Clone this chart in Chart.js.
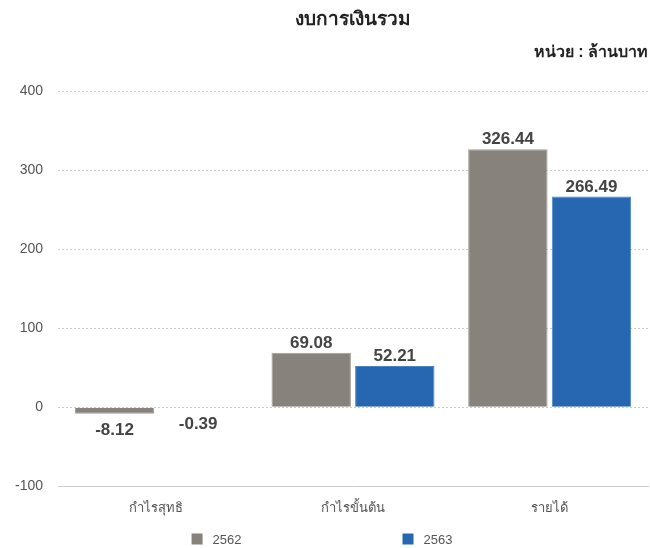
<!DOCTYPE html>
<html>
<head>
<meta charset="utf-8">
<script src="https://cdn.jsdelivr.net/npm/chart.js@4"></script>
<style>
  body { margin: 0; background: #fff; }
  #wrap { width: 650px; height: 548px; }
</style>
</head>
<body>
<div id="wrap"><canvas id="financeChart"></canvas></div>
<script>
// chart data
const categories = ["กำไรสุทธิ", "กำไรขั้นต้น", "รายได้"];
const years = ["2562", "2563"];
const values2562 = [-8.12, 69.08, 326.44];
const values2563 = [-0.39, 52.21, 266.49];
const yTicks = [-100, 0, 100, 200, 300, 400];

const FONT = "'Liberation Sans', Arial, 'DejaVu Sans', sans-serif";

// value labels above / below every bar
const valueLabels = {
  id: "valueLabels",
  afterDatasetsDraw(chart) {
    const ctx = chart.ctx;
    ctx.save();
    ctx.font = "bold 17px " + FONT;
    ctx.fillStyle = "#444";
    ctx.textAlign = "center";
    chart.data.datasets.forEach((ds, i) => {
      chart.getDatasetMeta(i).data.forEach((bar, j) => {
        const v = ds.data[j];
        if (v >= 0) {
          ctx.textBaseline = "alphabetic";
          ctx.fillText(v.toFixed(2), bar.x, bar.y - 5);
        } else {
          ctx.textBaseline = "top";
          ctx.fillText(v.toFixed(2), bar.x, bar.y + 8);
        }
      });
    });
    ctx.restore();
  },
};

// legend spread wide at the bottom, like the original
const wideLegend = {
  id: "wideLegend",
  afterDraw(chart) {
    const ctx = chart.ctx;
    const box = 11, gap = 10, spacing = 161;
    ctx.save();
    ctx.font = "13px " + FONT;
    const items = chart.data.datasets.map((ds) => ({
      label: ds.label,
      color: ds.backgroundColor,
      w: box + gap + ctx.measureText(ds.label).width,
    }));
    const total = items.reduce((s, it) => s + it.w, 0) + spacing * (items.length - 1);
    let x = chart.width / 2 - total / 2 - 3;
    const y = chart.height - 8;
    items.forEach((it) => {
      ctx.fillStyle = it.color;
      ctx.fillRect(x, y - box / 2 - 1, box, box);
      ctx.fillStyle = "#555";
      ctx.textBaseline = "middle";
      ctx.fillText(it.label, x + box + gap, y);
      x += it.w + spacing;
    });
    ctx.restore();
  },
};

function createChart(elementId) {
  const ctx = document.getElementById(elementId).getContext("2d");
  new Chart(ctx, {
    type: "bar",
    data: {
      labels: categories,
      datasets: [
        {
          label: years[0],
          data: values2562,
          backgroundColor: "#87837c",
          borderColor: "#a09c96",
          borderWidth: 1,
        },
        {
          label: years[1],
          data: values2563,
          backgroundColor: "#2766b0",
          borderColor: "#4a82c4",
          borderWidth: 1,
        },
      ],
    },
    options: {
      responsive: true,
      maintainAspectRatio: false,
      animation: false,
      categoryPercentage: 0.85,
      barPercentage: 0.95,
      layout: {
        padding: { left: 0, right: 2, top: 0, bottom: 26 },
      },
      scales: {
        x: {
          grid: { display: false },
          border: { display: true, color: "#ccc" },
          ticks: { color: "#555", font: { family: FONT, size: 13 }, padding: 6 },
        },
        y: {
          min: yTicks[0],
          max: yTicks[yTicks.length - 1],
          border: { display: false, dash: [2, 2] }, // dotted gridlines
          grid: { color: "#ccc", drawTicks: false },
          ticks: {
            stepSize: 100,
            color: "#555",
            font: { family: FONT, size: 14 },
            padding: 15,
          },
        },
      },
      plugins: {
        legend: { display: false }, // drawn by wideLegend
        tooltip: { enabled: false },
        title: {
          display: true,
          fullSize: false, // centre over the plot area
          text: "งบการเงินรวม",
          color: "#222",
          font: { family: FONT, size: 19, weight: "bold" },
          padding: { top: 8, bottom: 10 },
        },
        subtitle: {
          display: true,
          text: "หน่วย : ล้านบาท",
          align: "end",
          color: "#222",
          font: { family: FONT, size: 16, weight: "bold" },
          padding: { top: 2, bottom: 29 },
        },
      },
    },
    plugins: [valueLabels, wideLegend],
  });
}

createChart("financeChart");
</script>
</body>
</html>
